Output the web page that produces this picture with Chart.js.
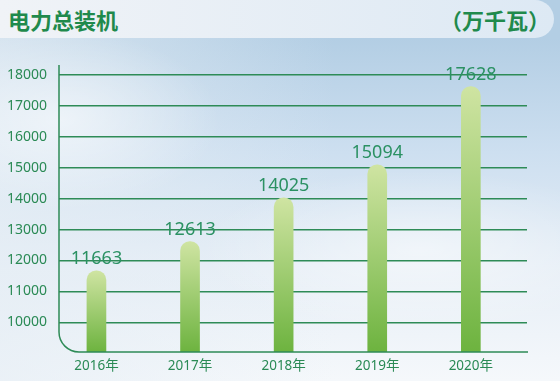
<!DOCTYPE html>
<html>
<head>
<meta charset="utf-8">
<script src="https://cdn.jsdelivr.net/npm/chart.js@4"></script>
<style>
  html, body { margin: 0; padding: 0; }
  body {
    width: 560px; height: 381px; overflow: hidden; position: relative;
    background:
      radial-gradient(ellipse 160px 90px at 60px 120px, rgba(255,255,255,0.55), rgba(255,255,255,0)),
      radial-gradient(ellipse 220px 80px at 420px 250px, rgba(255,255,255,0.5), rgba(255,255,255,0)),
      linear-gradient(to right, rgba(230,238,245,0.7), rgba(230,238,245,0) 60%),
      linear-gradient(to bottom, #b3cee4 10%, #cddff0 40%, #e6eef6 70%, #f5f8fb 100%);
    font-family: "Noto Sans CJK SC", "Noto Sans", sans-serif;
  }
  #banner {
    position: absolute; left: 0; top: 0; width: 554px; height: 38px;
    border-radius: 0 19px 19px 0;
    background: linear-gradient(to right, #f0f3f7, #dde9f4);
  }
  #title {
    position: absolute; left: 8px; top: 4px; font-size: 22px; font-weight: bold;
    color: #1f8a4c; line-height: 30px;
  }
  #unit {
    position: absolute; right: 10px; top: 4px; font-size: 22px; font-weight: bold;
    color: #1f8a4c; line-height: 30px;
  }
  #wrap { position: absolute; left: 0; top: 0; width: 560px; height: 381px; }
</style>
</head>
<body>
<div id="banner"></div>
<div id="title">电力总装机</div>
<div id="unit">（万千瓦）</div>
<div id="wrap"><canvas id="chart"></canvas></div>
<script>
const years = ['2016年', '2017年', '2018年', '2019年', '2020年'];
const capacity = [11663, 12613, 14025, 15094, 17628];
const yTicks = [10000, 11000, 12000, 13000, 14000, 15000, 16000, 17000, 18000];
const yMin = 9040;

const lineColor = '#2e8b57';
const textColor = '#2a8a55';

// bar fill: pale top to green bottom, per bar
function barFill(context) {
    const chart = context.chart;
    const area = chart.chartArea;
    if (!area || context.parsed == null) {
        return '#9ccc65';
    }
    const top = chart.scales.y.getPixelForValue(context.parsed.y);
    const g = chart.ctx.createLinearGradient(0, top, 0, area.bottom);
    g.addColorStop(0, '#cfe4a2');
    g.addColorStop(1, '#6db33f');
    return g;
}

// value above each bar
const valueLabels = {
    id: 'valueLabels',
    afterDatasetsDraw(chart) {
        const ctx = chart.ctx;
        const meta = chart.getDatasetMeta(0);
        ctx.save();
        ctx.font = '18px "Noto Sans", sans-serif';
        ctx.fillStyle = '#2b9163';
        ctx.textAlign = 'center';
        ctx.textBaseline = 'bottom';
        meta.data.forEach((bar, i) => {
            ctx.fillText(capacity[i], bar.x, bar.y - 3);
        });
        ctx.restore();
    }
};

// left + bottom axis with rounded corner
const roundAxis = {
    id: 'roundAxis',
    afterDatasetsDraw(chart) {
        const ctx = chart.ctx;
        const a = chart.chartArea;
        const r = 20;
        ctx.save();
        ctx.strokeStyle = lineColor;
        ctx.lineWidth = 1.5;
        ctx.beginPath();
        ctx.moveTo(a.left, a.top - 10);
        ctx.lineTo(a.left, a.bottom - r);
        ctx.arcTo(a.left, a.bottom, a.left + r, a.bottom, r);
        ctx.lineTo(a.right + 1, a.bottom);
        ctx.stroke();
        ctx.restore();
    }
};

new Chart(document.getElementById('chart'), {
    type: 'bar',
    data: {
        datasets: [{
            data: capacity.map((v, i) => ({ x: i, y: v })),
            backgroundColor: barFill,
            borderWidth: 0,
            borderRadius: { topLeft: 10, topRight: 10 },
            borderSkipped: 'bottom',
            barThickness: 19,
            base: yMin,
        }]
    },
    options: {
        responsive: true,
        maintainAspectRatio: false,
        animation: false,
        layout: {
            padding: { left: 0, top: 75, right: 33, bottom: 0 }
        },
        plugins: {
            legend: { display: false },
            tooltip: { enabled: false },
        },
        scales: {
            x: {
                type: 'linear',
                min: -0.4,
                max: 4.6,
                offset: false,
                afterBuildTicks: (scale) => {
                    scale.ticks = years.map((y, i) => ({ value: i }));
                },
                afterFit: (scale) => { scale.height = 29; },
                ticks: {
                    callback: (v) => years[v],
                    color: textColor,
                    font: { size: 13.5, family: '"Noto Sans", "Noto Sans CJK SC", sans-serif' },
                    padding: 6,
                    maxRotation: 0,
                    autoSkip: false,
                },
                grid: { display: false, drawTicks: false },
                border: { display: false },
            },
            y: {
                min: yMin,
                max: 18000,
                afterBuildTicks: (scale) => {
                    scale.ticks = yTicks.map(v => ({ value: v }));
                },
                afterFit: (scale) => { scale.width = 59; },
                ticks: {
                    callback: (v) => String(v),
                    color: textColor,
                    font: { size: 14, family: '"Noto Sans", sans-serif' },
                    padding: 12,
                },
                grid: {
                    color: lineColor,
                    lineWidth: 1.5,
                    drawTicks: false,
                },
                border: { display: false },
            }
        }
    },
    plugins: [valueLabels, roundAxis]
});
</script>
</body>
</html>
